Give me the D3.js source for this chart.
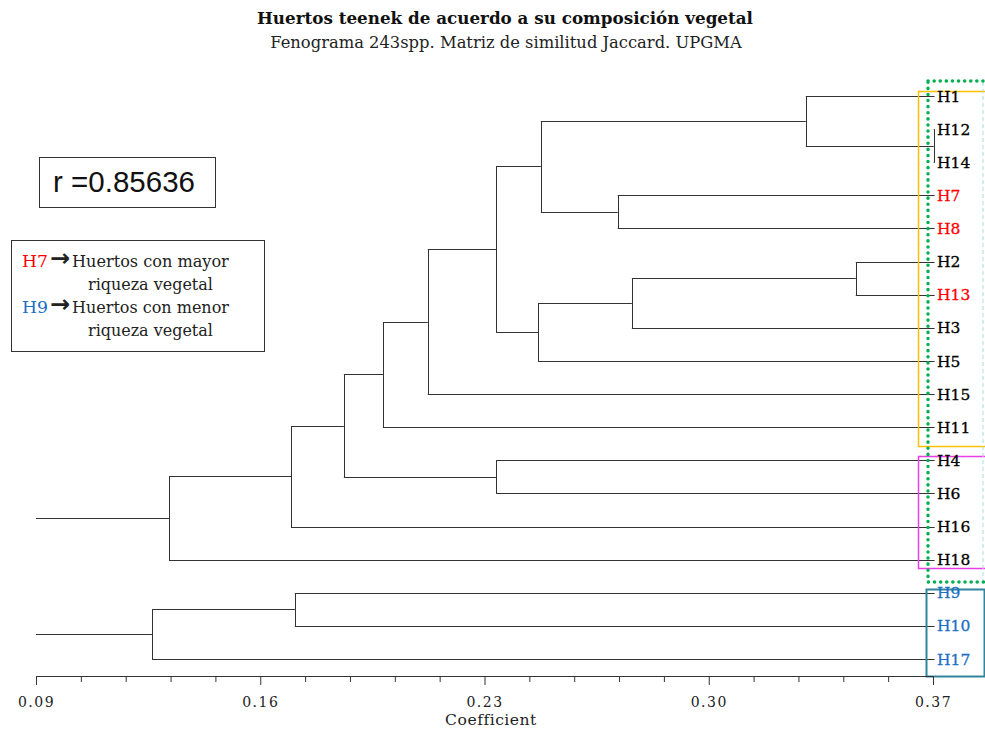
<!DOCTYPE html>
<html>
<head>
<meta charset="utf-8">
<script src="https://cdn.jsdelivr.net/npm/d3@7"></script>
<style>
  body { margin: 0; background: #fff; }
  svg { display: block; }
  .serif { font-family: "DejaVu Serif", "Liberation Serif", serif; }
</style>
</head>
<body>
<div id="chart"></div>
<script>
// leaves, top to bottom
var leafNames = ["H1","H12","H14","H7","H8","H2","H13","H3","H5","H15","H11","H4","H6","H16","H18","H9","H10","H17"];
var richLeaves = ["H7","H8","H13"];
var poorLeaves = ["H9","H10","H17"];
// UPGMA merges: [id, left, right, coefficient]
var merges = [
  ["c1","H12","H14",0.3702],
  ["c2","H1","c1",0.3303],
  ["c3","H7","H8",0.2716],
  ["c4","c2","c3",0.2476],
  ["c5","H2","H13",0.3459],
  ["c6","c5","H3",0.2760],
  ["c7","c6","H5",0.2467],
  ["c8","c4","c7",0.2336],
  ["c9","c8","H15",0.2123],
  ["c10","c9","H11",0.1983],
  ["c11","H4","H6",0.2336],
  ["c12","c10","c11",0.1861],
  ["c13","c12","H16",0.1696],
  ["c14","c13","H18",0.1315],
  ["c15","H9","H10",0.1708],
  ["c16","c15","H17",0.1262],
  ["root","c14","c16",null]
];
var leafCoef = 0.3705;
var majorTicks = [0.09,0.16,0.23,0.30,0.37];
var minorTicks = [0.104,0.118,0.132,0.146,0.174,0.188,0.202,0.216,0.244,0.258,0.272,0.286,0.314,0.328,0.342,0.356];

var width = 985, height = 731;

var svg = d3.select("#chart").append("svg")
    .attr("width", width)
    .attr("height", height);

// shrink/grow a text's font size so it spans the wanted width
function fit(sel, w) {
  var fs = +sel.attr("font-size");
  var len = sel.node().getComputedTextLength();
  sel.attr("font-size", (fs * w / len).toFixed(2));
  return sel;
}

var x = d3.scaleLinear().domain([0.09, 0.37]).range([36, 933]);
var y = d3.scalePoint().domain(leafNames).range([96, 659]);

// build nested tree from merges
var nodes = {};
leafNames.forEach(function(n){ nodes[n] = {name: n, coef: leafCoef}; });
merges.forEach(function(m){
  nodes[m[0]] = {name: m[0], coef: m[3], children: [nodes[m[1]], nodes[m[2]]]};
});
var root = d3.hierarchy(nodes["root"]);
root.eachAfter(function(d){
  if (!d.children) d.py = y(d.data.name);
  else d.py = d3.mean(d.children, function(c){ return c.py; });
});

var tree = svg.append("g").attr("stroke", "#333").attr("stroke-width", 1).attr("fill", "none");

// horizontal segments
root.descendants().forEach(function(d){
  if (!d.parent) return;
  var x0 = d.parent.data.coef == null ? x.range()[0] : x(d.parent.data.coef);
  var x1 = d.children ? x(d.data.coef) : x(leafCoef);
  tree.append("line")
    .attr("x1", x0).attr("x2", x1)
    .attr("y1", Math.round(d.py) + 0.5).attr("y2", Math.round(d.py) + 0.5);
});
// vertical segments
root.descendants().forEach(function(d){
  if (!d.children || d.data.coef == null) return;
  var xx = Math.round(x(d.data.coef)) + 0.5;
  tree.append("line")
    .attr("x1", xx).attr("x2", xx)
    .attr("y1", Math.round(d.children[0].py) + 0.5)
    .attr("y2", Math.round(d.children[1].py) + 0.5);
});

// group boxes
svg.append("rect").attr("x", 918.5).attr("y", 91.5).attr("width", 80).attr("height", 355)
  .attr("fill", "none").attr("stroke", "#ffc000").attr("stroke-width", 1.5);
svg.append("rect").attr("x", 918.5).attr("y", 456.5).attr("width", 80).attr("height", 112)
  .attr("fill", "none").attr("stroke", "#e83ee8").attr("stroke-width", 1.5);
svg.append("rect").attr("x", 926.5).attr("y", 589.5).attr("width", 58).attr("height", 87)
  .attr("fill", "none").attr("stroke", "#31859c").attr("stroke-width", 2);
svg.append("line").attr("x1", 983).attr("x2", 983).attr("y1", 82).attr("y2", 580)
  .attr("stroke", "#9fe0d8").attr("stroke-width", 1).attr("stroke-dasharray", "4,3");
svg.append("rect").attr("x", 928).attr("y", 81).attr("width", 70).attr("height", 501)
  .attr("fill", "none").attr("stroke", "#00b050").attr("stroke-width", 3.5)
  .attr("stroke-dasharray", "0.1,6").attr("stroke-linecap", "round");

// leaf labels
svg.append("g").selectAll("text")
  .data(root.leaves())
  .enter().append("text")
    .attr("class", "serif")
    .attr("x", 937)
    .attr("y", function(d){ return d.py; })
    .attr("dy", "0.36em")
    .attr("font-size", 15.5)
    .attr("stroke-width", 0.3)
    .attr("fill", function(d){
      if (richLeaves.indexOf(d.data.name) >= 0) return "#ff0000";
      if (poorLeaves.indexOf(d.data.name) >= 0) return "#1a6fc4";
      return "#000";
    })
    .attr("stroke", function(d){
      if (richLeaves.indexOf(d.data.name) >= 0) return "#ff0000";
      if (poorLeaves.indexOf(d.data.name) >= 0) return "#1a6fc4";
      return "#000";
    })
    .text(function(d){ return d.data.name; });

// axis
var axisY = 676;
var xAxis = d3.axisBottom(x).tickValues(majorTicks).tickFormat(d3.format(".2f")).tickSize(9).tickSizeOuter(0);
var gx = svg.append("g").attr("transform", "translate(0," + axisY + ")").call(xAxis);
gx.select(".domain").attr("stroke", "#333");
gx.selectAll(".tick line").attr("stroke", "#333");
gx.selectAll(".tick text").attr("class", "serif").attr("font-size", 14).attr("fill", "#222")
  .attr("dy", "1.35em").style("letter-spacing", "1.5px");
var minorAxis = d3.axisBottom(x).tickValues(minorTicks).tickFormat("").tickSize(6).tickSizeOuter(0);
var gm = svg.append("g").attr("transform", "translate(0," + axisY + ")").call(minorAxis);
gm.select(".domain").remove();
gm.selectAll(".tick line").attr("stroke", "#333");
fit(svg.append("text").attr("class", "serif")
  .attr("x", 491).attr("y", 725).attr("text-anchor", "middle")
  .attr("font-size", 15).attr("fill", "#222").style("letter-spacing", "0.5px")
  .text("Coefficient"), 92);

// titles
fit(svg.append("text").attr("class", "serif")
  .attr("x", 505).attr("y", 24).attr("text-anchor", "middle")
  .attr("font-size", 16).attr("font-weight", "bold").attr("fill", "#111")
  .text("Huertos teenek de acuerdo a su composición vegetal"), 496);
fit(svg.append("text").attr("class", "serif")
  .attr("x", 506).attr("y", 48).attr("text-anchor", "middle")
  .attr("font-size", 15).attr("fill", "#222")
  .text("Fenograma 243spp. Matriz de similitud Jaccard. UPGMA"), 472);

// correlation box
svg.append("rect").attr("x", 39.5).attr("y", 157.5).attr("width", 176).attr("height", 50)
  .attr("fill", "#fff").attr("stroke", "#333").attr("stroke-width", 1);
fit(svg.append("text").attr("x", 53).attr("y", 192)
  .attr("font-family", "Liberation Sans, Arial, sans-serif")
  .attr("font-size", 28).attr("fill", "#111")
  .text("r =0.85636"), 142);

// legend
var lg = svg.append("g");
lg.append("rect").attr("x", 11.5).attr("y", 240.5).attr("width", 253).attr("height", 111)
  .attr("fill", "#fff").attr("stroke", "#333").attr("stroke-width", 1);
var legendRows = [
  {key: "H7", color: "#ff0000", line1: "Huertos con mayor", line2: "riqueza vegetal", y: 267},
  {key: "H9", color: "#1a6fc4", line1: "Huertos con menor", line2: "riqueza vegetal", y: 313}
];
legendRows.forEach(function(r){
  fit(lg.append("text").attr("class", "serif").attr("x", 22).attr("y", r.y)
    .attr("font-size", 16).attr("fill", r.color).text(r.key), 26);
  fit(lg.append("text").attr("x", 50).attr("y", r.y - 1)
    .attr("font-family", "DejaVu Sans, sans-serif").attr("font-weight", "bold")
    .attr("font-size", 16).attr("fill", "#222").text("\u2192"), 20);
  fit(lg.append("text").attr("class", "serif").attr("x", 72).attr("y", r.y)
    .attr("font-size", 16).attr("fill", "#222").text(r.line1), 157);
  fit(lg.append("text").attr("class", "serif").attr("x", 88).attr("y", r.y + 23)
    .attr("font-size", 16).attr("fill", "#222").text(r.line2), 125);
});
</script>
</body>
</html>
